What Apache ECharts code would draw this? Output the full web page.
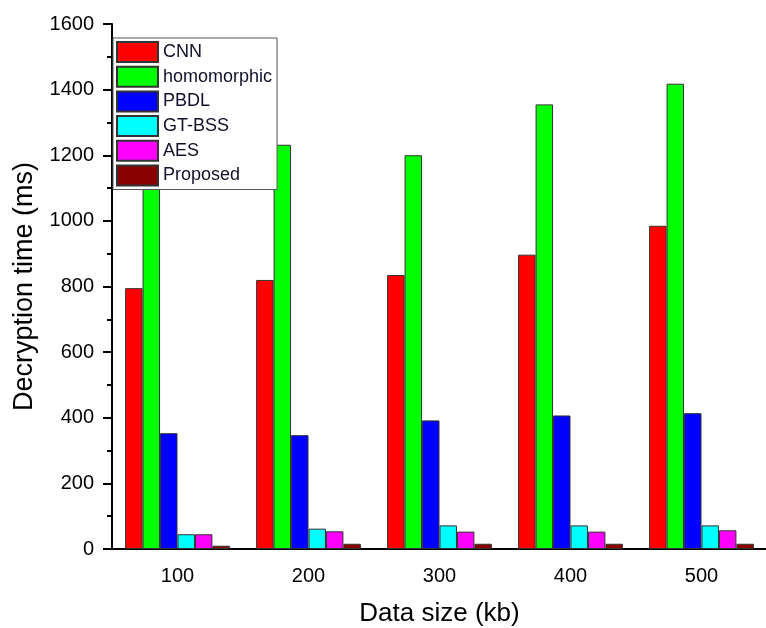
<!DOCTYPE html>
<html><head><meta charset="utf-8">
<script src="https://cdn.jsdelivr.net/npm/echarts@6/dist/echarts.min.js"></script>
<style>html,body{margin:0;padding:0;background:#fff}#c{width:766px;height:628px}</style>
</head><body><div id="c"></div>
<script>
const categories = ['100', '200', '300', '400', '500'];
const cnn = [795, 820, 835, 897, 985];
const homomorphic = [1180, 1232, 1200, 1355, 1418];
const pbdl = [353, 347, 392, 407, 414];
const gtbss = [45, 62, 72, 72, 72];
const aes = [45, 54, 53, 53, 57];
const proposed = [10, 16, 16, 16, 16];
const seriesNames = ['CNN', 'homomorphic', 'PBDL', 'GT-BSS', 'AES', 'Proposed'];
const seriesData = [cnn, homomorphic, pbdl, gtbss, aes, proposed];
const colors = ['#ff0000', '#00ff00', '#0000ff', '#00ffff', '#ff00ff', '#8b0000'];

const font = 'Liberation Sans, Arial, sans-serif';
const chart = echarts.init(document.getElementById('c'));
chart.setOption({
  animation: false,
  backgroundColor: '#fff',
  grid: { left: 112, top: 24, width: 655, height: 525, containLabel: false, outerBoundsMode: 'none' },
  legend: {
    orient: 'vertical', left: 113, top: 38,
    data: seriesNames,
    itemWidth: 41, itemHeight: 20, itemGap: 2.7,
    padding: [3, 5, 3, 3],
    backgroundColor: '#fff', borderColor: '#555', borderWidth: 1,
    textStyle: { fontFamily: font, fontSize: 18, color: '#10102a' },
    icon: 'rect'
  },
  xAxis: [{
    type: 'category', data: categories,
    name: 'Data size (kb)', nameLocation: 'middle', nameGap: 52,
    nameTextStyle: { fontFamily: font, fontSize: 26, color: '#000' },
    axisLine: { lineStyle: { color: '#000', width: 2 } },
    axisTick: { alignWithLabel: true, length: 9, lineStyle: { color: '#000', width: 2 } },
    axisLabel: { fontFamily: font, fontSize: 20, color: '#000', margin: 17 }
  }, {
    type: 'category', data: categories, position: 'bottom',
    axisLine: { show: false },
    axisTick: { length: 5, lineStyle: { color: '#000', width: 2 } },
    axisLabel: { show: false }
  }],
  yAxis: {
    type: 'value', min: 0, max: 1600, interval: 200,
    name: 'Decryption time (ms)', nameLocation: 'middle', nameGap: 74,
    nameTextStyle: { fontFamily: font, fontSize: 27, color: '#000' },
    axisLine: { show: true, lineStyle: { color: '#000', width: 2 } },
    axisTick: { show: true, length: 9, lineStyle: { color: '#000', width: 2 } },
    minorTick: { show: true, splitNumber: 2, length: 5, lineStyle: { color: '#000', width: 2 } },
    splitLine: { show: false },
    axisLabel: { fontFamily: font, fontSize: 20, color: '#000', margin: 18, formatter: v => String(v) }
  },
  series: seriesNames.map((n, i) => ({
    name: n, type: 'bar', data: seriesData[i],
    barGap: '0%', barCategoryGap: '20%',
    itemStyle: { color: colors[i], borderColor: '#333', borderWidth: 1 }
  }))
});
</script></body></html>
